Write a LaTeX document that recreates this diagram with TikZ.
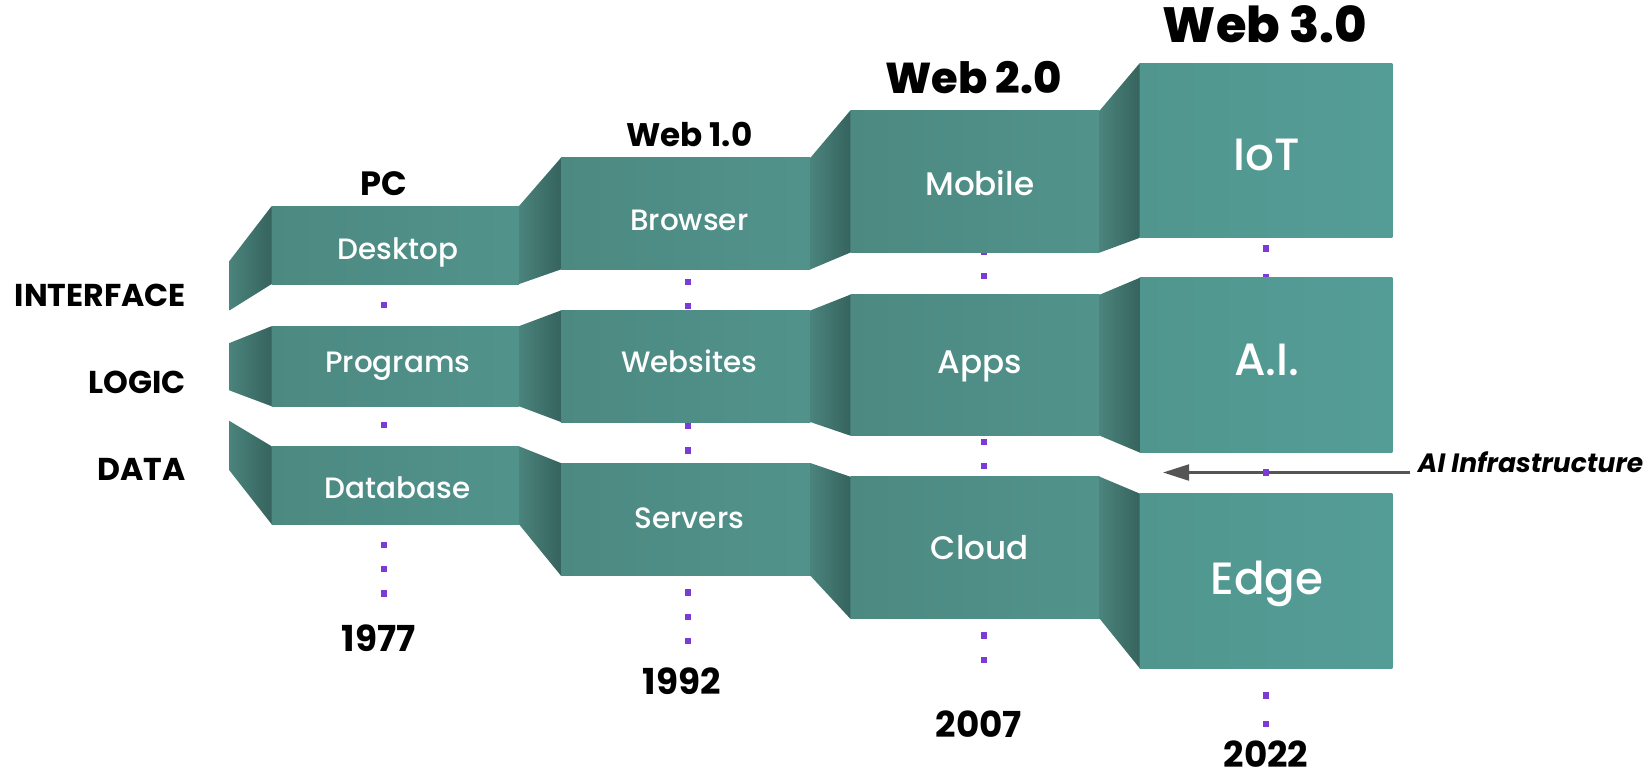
\documentclass[tikz,border=0pt]{standalone}
\usepackage{fontspec}
\setmainfont{Poppins}
\newfontfamily\pmed{Poppins Medium}
\newfontfamily\pxb{Poppins ExtraBold}
\usetikzlibrary{arrows.meta}
\definecolor{faceL}{RGB}{76,137,129}
\definecolor{faceR}{RGB}{81,147,139}
\definecolor{faceLt}{RGB}{80,150,143}
\definecolor{faceRt}{RGB}{84,157,150}
\definecolor{stubL}{RGB}{74,132,124}
\definecolor{stubR}{RGB}{54,99,94}
\definecolor{dotc}{RGB}{123,60,214}
\definecolor{arrc}{RGB}{85,85,85}
\tikzset{
  box/.style={rectangle, inner sep=0pt, outer sep=0pt, draw=none,
    left color=faceL, right color=faceR},
  boxt/.style={box, left color=faceLt, right color=faceRt},
  btxt/.style={inner sep=0pt, text=white, text height=1em, text depth=0pt, font=\pmed\fontsize{#1}{#1}\selectfont},
  ttl/.style={inner sep=0pt, text height=0.7em, text depth=0pt, font=\bfseries\fontsize{#1}{#1}\selectfont},
  ttlx/.style={inner sep=0pt, text height=0.7em, text depth=0pt, font=\pxb\fontsize{#1}{#1}\selectfont},
  lbl/.style={inner sep=0pt, text height=0.7em, text depth=0pt, anchor=east, font=\bfseries\fontsize{15}{15}\selectfont},
  stub/.style={left color=stubL, right color=stubR},
  arr/.style={draw=arrc, line width=1.5pt, -{Triangle[length=12.5pt, width=7.5pt]}},
}
\begin{document}
\begin{tikzpicture}[x=0.5pt, y=-0.5pt]
\useasboundingbox (0,0) rectangle (1566,743);

% arrow
\coordinate (aitail) at (1340,449);
\coordinate (aitip) at (1105,449);
\node[inner sep=0pt, anchor=west, text height=0.7em, text depth=0pt,
      font=\bfseries\itshape\fontsize{12.6}{12.6}\selectfont] (ai) at (1347,442) {AI Infrastructure};
\draw[arr] (aitail) -- (aitip);

% dots (behind boxes)
\foreach \x/\y in {365/290, 365/404, 365/518, 365/541, 365/564,
                   654/268, 654/291, 654/405, 654/428, 654/563, 654/586, 654/609,
                   935/239, 935/262, 935/420, 935/443, 935/604, 935/627,
                   1203/236, 1203/263, 1203/449, 1203/661, 1203/688}
  \fill[dotc] (\x-3,\y-3) rectangle (\x+3,\y+3);

% boxes
\node[box, minimum width=117.5pt, minimum height=37pt] (pcI) at (375.5,233) {};
\node[box, minimum width=117.5pt, minimum height=38pt] (pcL) at (375.5,348) {};
\node[box, minimum width=117.5pt, minimum height=37pt] (pcD) at (375.5,461) {};
\node[box, minimum width=118.5pt, minimum height=53pt] (w1I) at (651.5,203) {};
\node[box, minimum width=118.5pt, minimum height=53pt] (w1L) at (651.5,348) {};
\node[box, minimum width=118.5pt, minimum height=53.5pt] (w1D) at (651.5,493.5) {};
\node[box, minimum width=118.5pt, minimum height=67.5pt] (w2I) at (926.5,172.5) {};
\node[box, minimum width=118.5pt, minimum height=67pt] (w2L) at (926.5,347) {};
\node[box, minimum width=118.5pt, minimum height=67.5pt] (w2D) at (926.5,520.5) {};
\node[boxt, minimum width=120pt, minimum height=83pt] (w3I) at (1203,143) {};
\node[boxt, minimum width=120pt, minimum height=83pt] (w3L) at (1203,347) {};
\node[boxt, minimum width=120pt, minimum height=83pt] (w3D) at (1203,552) {};

% box texts
\node[btxt=14] (tDesk) at (378,237) {Desktop};
\node[btxt=14] (tProg) at (378,344) {Programs};
\node[btxt=14] (tData) at (378,464) {Database};
\node[btxt=14] (tBrow) at (655,209) {Browser};
\node[btxt=14] (tWebs) at (655,344) {Websites};
\node[btxt=14] (tServ) at (655,492) {Servers};
\node[btxt=15.5] (tMob) at (931,176) {Mobile};
\node[btxt=15.5] (tApps) at (931,345) {Apps};
\node[btxt=15.5] (tCloud) at (931,522) {Cloud};
\node[btxt=21.5] (tIoT) at (1204,152) {IoT};
\node[btxt=21.5] (tAI) at (1204,347) {A.I.};
\node[btxt=21.5] (tEdge) at (1204,555) {Edge};

% left stubs
\coordinate (sIt) at (218,248); \coordinate (sIb) at (218,295);
\coordinate (sLt) at (218,326); \coordinate (sLb) at (218,371);
\coordinate (sDt) at (218,400); \coordinate (sDb) at (218,447);
\shade[stub] (sIt) -- (pcI.north west) -- (pcI.south west) -- (sIb) -- cycle;
\shade[stub] (sLt) -- (pcL.north west) -- (pcL.south west) -- (sLb) -- cycle;
\shade[stub] (sDt) -- (pcD.north west) -- (pcD.south west) -- (sDb) -- cycle;

% connecting stubs
\foreach \a/\b in {pcI/w1I, pcL/w1L, pcD/w1D, w1I/w2I, w1L/w2L, w1D/w2D, w2I/w3I, w2L/w3L, w2D/w3D}
  \shade[stub] (\a.north east) -- (\b.north west) -- (\b.south west) -- (\a.south east) -- cycle;

% titles
\node[ttl=16] (tpc) at (365,179) {PC};
\node[ttl=15.5] (tw1) at (655,132) {Web 1.0};
\node[ttlx=20.5] (tw2) at (925,82) {Web 2.0};
\node[ttlx=23.5] (tw3) at (1202,33) {Web 3.0};

% years
\node[ttl=17] (y1) at (360,612) {1977};
\node[ttl=17] (y2) at (648,653) {1992};
\node[ttl=17] (y3) at (930,694) {2007};
\node[ttl=17] (y4) at (1203,722) {2022};

% row labels
\node[lbl] (lI) at (177,284) {INTERFACE};
\node[lbl] (lL) at (177,367) {LOGIC};
\node[lbl] (lD) at (177,450) {DATA};
\end{tikzpicture}
\end{document}
